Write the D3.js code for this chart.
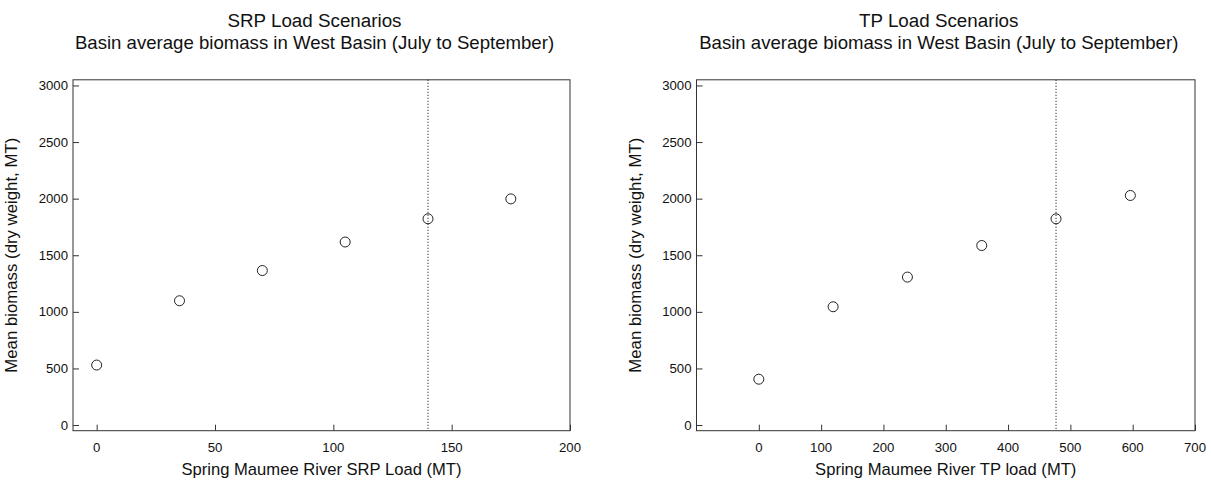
<!DOCTYPE html>
<html>
<head>
<meta charset="utf-8">
<script src="https://cdn.jsdelivr.net/npm/d3@7"></script>
<style>
  html, body { margin: 0; padding: 0; background: #fff; }
  svg { display: block; font-family: "Liberation Sans", Arial, sans-serif; }
</style>
</head>
<body>
<svg id="chart" width="1211" height="489"></svg>
<script>
// ---- Data ----
const srpLoad = [0, 35, 70, 105, 140, 175];
const srpBiomass = [530, 1098, 1365, 1617, 1822, 1998];
const srpCurrent = 140;
const srpTicks = [0, 50, 100, 150, 200];

const tpLoad = [0, 119.25, 238.5, 357.75, 477, 596.25];
const tpBiomass = [405, 1045, 1307, 1586, 1822, 2028];
const tpCurrent = 477;
const tpTicks = [0, 100, 200, 300, 400, 500, 600, 700];

const biomassTicks = [0, 500, 1000, 1500, 2000, 2500, 3000];

const titles = ["SRP Load Scenarios", "TP Load Scenarios"];
const subtitle = "Basin average biomass in West Basin (July to September)";
const xTitles = ["Spring Maumee River SRP Load (MT)", "Spring Maumee River TP load (MT)"];
const yTitle = "Mean biomass (dry weight, MT)";

// ---- Layout ----
const svg = d3.select("#chart");
const axisColor = "#333";
const textColor = "#111";

const panels = [
  { x: srpLoad, y: srpBiomass, vline: srpCurrent, xTicks: srpTicks, xDomain: [-10, 200],
    left: 73, right: 570, title: titles[0], xTitle: xTitles[0] },
  { x: tpLoad, y: tpBiomass, vline: tpCurrent, xTicks: tpTicks, xDomain: [-100, 700],
    left: 696.5, right: 1195, title: titles[1], xTitle: xTitles[1] }
];

const yScale = d3.scaleLinear().domain([-50, 3050]).range([430.7, 79.8]);
const plotTop = yScale.range()[1], plotBottom = yScale.range()[0];

panels.forEach(p => {
  const x = d3.scaleLinear().domain(p.xDomain).range([p.left, p.right]);
  const g = svg.append("g");
  const cx = (p.left + p.right) / 2;

  // Titles
  g.append("text").attr("x", cx - 7).attr("y", 27).attr("text-anchor", "middle")
    .attr("font-size", 18.8).attr("fill", textColor).text(p.title);
  g.append("text").attr("x", cx - 7).attr("y", 49).attr("text-anchor", "middle")
    .attr("font-size", 18.6).attr("fill", textColor).text(subtitle);

  // Box
  g.append("rect").attr("x", p.left).attr("y", plotTop)
    .attr("width", p.right - p.left).attr("height", plotBottom - plotTop)
    .attr("fill", "none").attr("stroke", axisColor).attr("stroke-width", 1);

  // Y axis (inward ticks)
  const yAxis = d3.axisRight(yScale).tickValues(biomassTicks).tickSize(6).tickFormat("");
  const ya = g.append("g").attr("transform", `translate(${p.left},0)`).call(yAxis);
  ya.select(".domain").remove();
  ya.selectAll("line").attr("stroke", axisColor);
  g.selectAll(null).data(biomassTicks).enter().append("text")
    .attr("x", p.left - 5).attr("y", d => yScale(d)).attr("dy", "0.35em")
    .attr("text-anchor", "end").attr("font-size", 13.2).attr("fill", textColor)
    .text(d => d);

  // X axis (inward ticks)
  const xAxis = d3.axisTop(x).tickValues(p.xTicks).tickSize(6).tickFormat("");
  const xa = g.append("g").attr("transform", `translate(0,${plotBottom})`).call(xAxis);
  xa.select(".domain").remove();
  xa.selectAll("line").attr("stroke", axisColor);
  g.selectAll(null).data(p.xTicks).enter().append("text")
    .attr("x", d => x(d)).attr("y", plotBottom + 21)
    .attr("text-anchor", "middle").attr("font-size", 13.2).attr("fill", textColor)
    .text(d => d);

  // Axis titles
  g.append("text").attr("x", cx).attr("y", 475).attr("text-anchor", "middle")
    .attr("font-size", 16.6).attr("fill", textColor).text(p.xTitle);
  g.append("text")
    .attr("transform", `translate(${p.left - 56},${(plotTop + plotBottom) / 2}) rotate(-90)`)
    .attr("text-anchor", "middle").attr("font-size", 16.8).attr("fill", textColor)
    .text(yTitle);

  // Dotted reference line
  g.append("line").attr("x1", x(p.vline)).attr("x2", x(p.vline))
    .attr("y1", plotTop).attr("y2", plotBottom)
    .attr("stroke", "#000").attr("stroke-width", 1).attr("stroke-dasharray", "1,2");

  // Points
  g.selectAll("circle").data(p.x.map((v, i) => [v, p.y[i]])).enter().append("circle")
    .attr("cx", d => x(d[0])).attr("cy", d => yScale(d[1])).attr("r", 5)
    .attr("fill", "none").attr("stroke", "#222").attr("stroke-width", 1);
});
</script>
</body>
</html>
